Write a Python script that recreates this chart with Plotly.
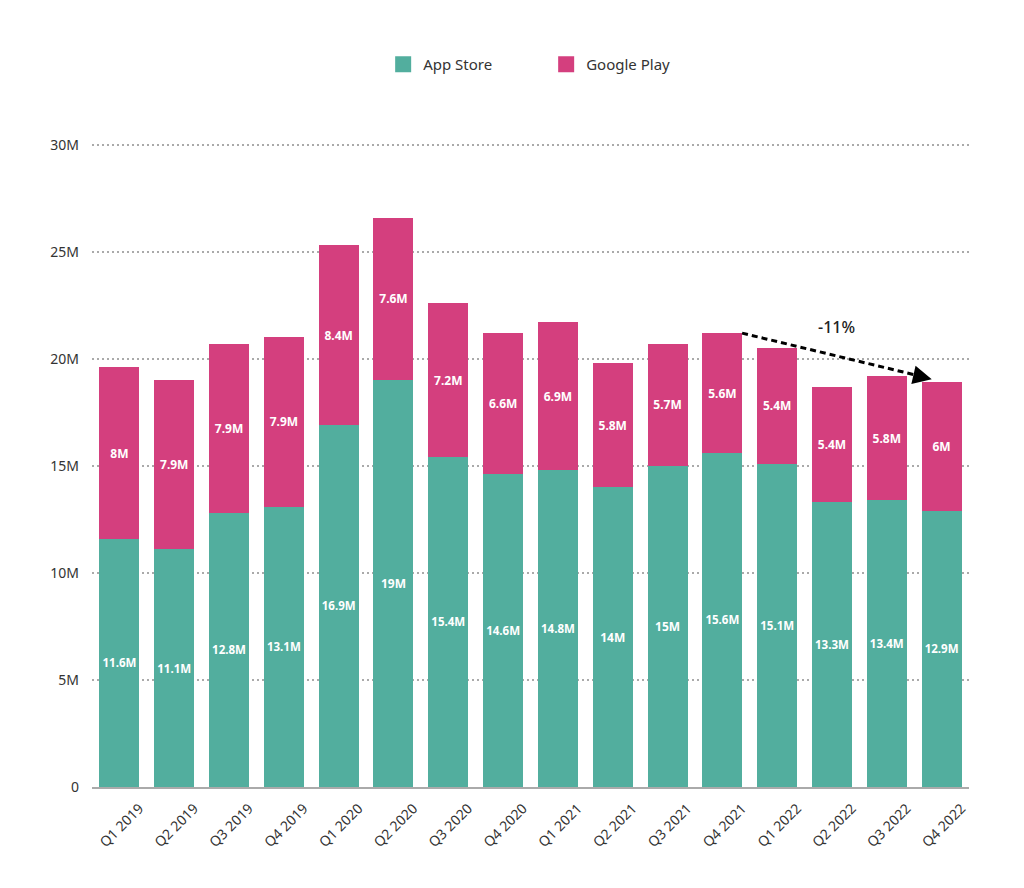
import plotly.graph_objects as go

quarters = ["Q1 2019", "Q2 2019", "Q3 2019", "Q4 2019",
            "Q1 2020", "Q2 2020", "Q3 2020", "Q4 2020",
            "Q1 2021", "Q2 2021", "Q3 2021", "Q4 2021",
            "Q1 2022", "Q2 2022", "Q3 2022", "Q4 2022"]
app_store = [11.6, 11.1, 12.8, 13.1, 16.9, 19, 15.4, 14.6,
             14.8, 14, 15, 15.6, 15.1, 13.3, 13.4, 12.9]
google_play = [8, 7.9, 7.9, 7.9, 8.4, 7.6, 7.2, 6.6,
               6.9, 5.8, 5.7, 5.6, 5.4, 5.4, 5.8, 6]
y_ticks = [0, 5, 10, 15, 20, 25, 30]
y_tick_labels = ["0", "5M", "10M", "15M", "20M", "25M", "30M"]
trend_label = "-11%"

TEAL = "#52AE9E"
PINK = "#D43F7E"
FONT = "Noto Sans"

totals = [a + g for a, g in zip(app_store, google_play)]

fig = go.Figure()
fig.add_trace(go.Bar(
    x=quarters, y=app_store, name="App Store", marker_color=TEAL,
    marker_line_width=0, showlegend=False,
    text=[f"{v:g}M" for v in app_store], textposition="inside",
    insidetextanchor="middle", textangle=0,
    textfont=dict(color="white", size=12, family=FONT, weight="bold"),
))
fig.add_trace(go.Bar(
    x=quarters, y=google_play, name="Google Play", marker_color=PINK,
    marker_line_width=0, showlegend=False,
    text=[f"{v:g}M" for v in google_play], textposition="inside",
    insidetextanchor="middle", textangle=0,
    textfont=dict(color="white", size=12, family=FONT, weight="bold"),
))
# legend entries with larger square swatches
for name, col in [("App Store", TEAL), ("Google Play", PINK)]:
    fig.add_trace(go.Scatter(
        x=[None], y=[None], mode="markers", name=name,
        marker=dict(symbol="square", size=18, color=col), showlegend=True,
    ))

# trend arrow from Q4 2021 total to Q4 2022 total
i0 = quarters.index("Q4 2021")
i1 = quarters.index("Q4 2022")
x0, y0 = i0 + 0.36, totals[i0]
x1, y1 = i1 - 0.18, totals[i1] + 0.15
fig.add_shape(type="line", x0=x0, y0=y0, x1=x1 - 0.16, y1=y1 + 0.11,
              xref="x", yref="y", line=dict(color="black", width=3, dash="6px,4px"))
fig.add_annotation(x=x1, y=y1, xref="x", yref="y", ax=-16, ay=-3.7,
                   axref="pixel", ayref="pixel", showarrow=True,
                   arrowhead=2, arrowsize=1.5, arrowwidth=2.5, arrowcolor="black", text="")
fig.add_annotation(x=(i0 + i1) / 2 + 0.08, y=totals[i0] + 0.3, xref="x", yref="y",
                   text=trend_label, showarrow=False,
                   font=dict(size=16, color="#222", family=FONT, weight=500))

fig.update_layout(
    barmode="stack", bargap=0.27,
    width=1024, height=888,
    margin=dict(l=92, r=55, t=143, b=101),
    paper_bgcolor="white", plot_bgcolor="white",
    font=dict(family=FONT, color="#333", size=13),
    legend=dict(orientation="h", x=0.332, xanchor="left", y=0.946, yref="container",
                yanchor="top", font=dict(size=15, color="#333"),
                entrywidth=118, itemsizing="trace", traceorder="normal"),
    showlegend=True,
)
fig.update_xaxes(type="category", tickangle=-45, showline=True, linecolor="#aaa",
                 linewidth=1.5, ticks="", showgrid=False, ticklabelshift=20,
                 ticklabelstandoff=6, tickfont=dict(size=14, color="#333"))
fig.update_yaxes(range=[0, 30.08], tickvals=y_ticks, ticktext=y_tick_labels,
                 showgrid=True, gridcolor="#aaaaaa", griddash="2px,3px", gridwidth=1.5,
                 zeroline=False, ticks="", ticklabelstandoff=12,
                 tickfont=dict(size=14, color="#333"))

fig.write_html("out.html")
